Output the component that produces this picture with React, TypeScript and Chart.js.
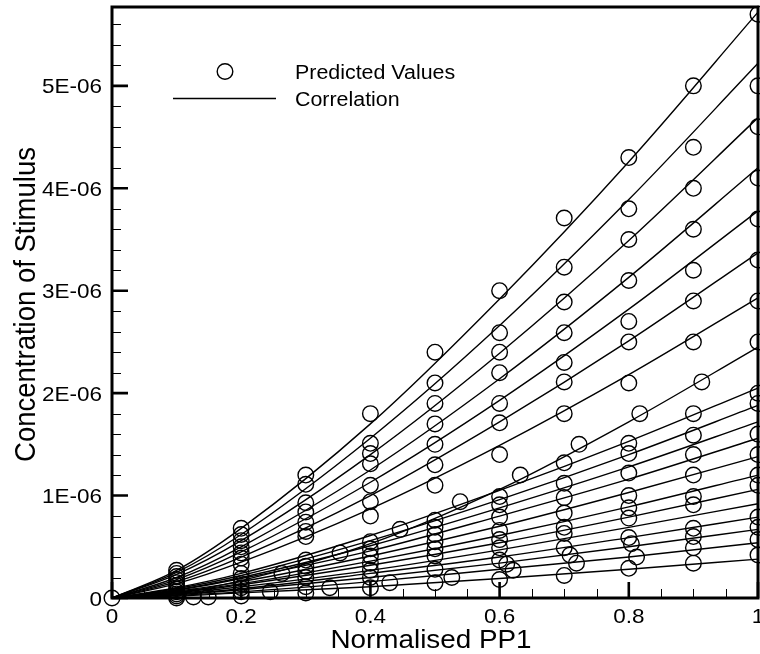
import { useEffect, useRef } from "react";
import { Chart, registerables } from "chart.js";

Chart.register(...registerables);

const FONT = '"Liberation Sans", Arial, Helvetica, sans-serif';
const TEXT_STRETCH = 1.07;

// Axis ranges (y in units of 1E-06)
const xRange = [0, 1];
const yRange = [0, 5.77];

// Tick values and labels
const xMajorTicks = [0, 0.2, 0.4, 0.6, 0.8, 1];
const xTickLabels = ["0", "0.2", "0.4", "0.6", "0.8", "1"];
const xMinorStep = 0.05;
const yMajorTicks = [0, 1, 2, 3, 4, 5];
const yTickLabels = ["0", "1E-06", "2E-06", "3E-06", "4E-06", "5E-06"];
const yMinorStep = 0.2;

const xTitle = "Normalised PP1";
const yTitle = "Concentration of Stimulus";
const legendLabels = ["Predicted Values", "Correlation"];

// Correlation curves, sampled at correlationX (y in 1E-06)
const correlationX = [0, 0.1, 0.2, 0.4, 0.6, 0.8, 1];
const correlationCurves = [
  [0, 0.27, 0.68, 1.7, 2.92, 4.26, 5.72],
  [0, 0.25, 0.62, 1.56, 2.66, 3.89, 5.22],
  [0, 0.23, 0.56, 1.4, 2.39, 3.49, 4.69],
  [0, 0.2, 0.5, 1.25, 2.14, 3.13, 4.2],
  [0, 0.18, 0.45, 1.13, 1.93, 2.82, 3.78],
  [0, 0.16, 0.4, 1.0, 1.72, 2.51, 3.37],
  [0, 0.14, 0.35, 0.87, 1.49, 2.18, 2.93],
  [0, 0.05, 0.17, 0.53, 1.06, 1.72, 2.45],
  [0, 0.1, 0.24, 0.61, 1.05, 1.53, 2.05],
  [0, 0.09, 0.22, 0.56, 0.96, 1.4, 1.88],
  [0, 0.08, 0.2, 0.51, 0.88, 1.28, 1.72],
  [0, 0.075, 0.19, 0.46, 0.8, 1.16, 1.56],
  [0, 0.066, 0.16, 0.41, 0.7, 1.03, 1.38],
  [0, 0.058, 0.14, 0.36, 0.61, 0.89, 1.2],
  [0, 0.051, 0.13, 0.32, 0.54, 0.79, 1.06],
  [0, 0.044, 0.11, 0.27, 0.47, 0.69, 0.92],
  [0, 0.038, 0.09, 0.24, 0.4, 0.59, 0.79],
  [0, 0.032, 0.08, 0.2, 0.34, 0.5, 0.67],
  [0, 0.026, 0.06, 0.16, 0.28, 0.4, 0.54],
  [0, 0.018, 0.05, 0.11, 0.19, 0.28, 0.38],
];

// Predicted values on the regular PP1 columns (y in 1E-06)
const predictedColumnX = [0, 0.1, 0.2, 0.3, 0.4, 0.5, 0.6, 0.7, 0.8, 0.9, 1];
const predictedColumnValues = [
  [0],
  [0.27, 0.24, 0.21, 0.18, 0.15, 0.12, 0.09, 0.06, 0.04, 0.02, 0],
  [0.68, 0.62, 0.56, 0.5, 0.44, 0.39, 0.33, 0.24, 0.19, 0.14, 0.1, 0.06, 0.02],
  [1.2, 1.11, 0.93, 0.84, 0.74, 0.65, 0.6, 0.37, 0.31, 0.26, 0.2, 0.11, 0.05],
  [1.8, 1.51, 1.41, 1.31, 1.1, 0.94, 0.8, 0.55, 0.48, 0.41, 0.34, 0.27, 0.2, 0.1],
  [2.4, 2.1, 1.9, 1.7, 1.5, 1.3, 1.1, 0.76, 0.69, 0.62, 0.55, 0.48, 0.41, 0.28, 0.15],
  [3.0, 2.59, 2.4, 2.2, 1.9, 1.71, 1.4, 0.99, 0.91, 0.79, 0.66, 0.57, 0.49, 0.37, 0.18],
  [3.71, 3.23, 2.89, 2.59, 2.3, 2.11, 1.8, 1.32, 1.12, 0.98, 0.83, 0.69, 0.63, 0.49, 0.22],
  [4.3, 3.8, 3.5, 3.1, 2.7, 2.5, 2.1, 1.51, 1.41, 1.22, 1.0, 0.88, 0.78, 0.59, 0.29],
  [5.0, 4.4, 4.0, 3.6, 3.2, 2.9, 2.5, 1.8, 1.59, 1.4, 1.2, 0.99, 0.91, 0.68, 0.6, 0.49, 0.34],
  [5.7, 5.0, 4.6, 4.1, 3.7, 3.3, 2.9, 2.5, 2.0, 1.9, 1.6, 1.4, 1.2, 1.1, 0.79, 0.69, 0.57, 0.42],
];

// Predicted values between the regular columns
const offGridX = [0.126, 0.149, 0.245, 0.263, 0.337, 0.353, 0.43, 0.446, 0.526, 0.539, 0.611, 0.621, 0.632, 0.709, 0.719, 0.723, 0.804, 0.812, 0.817, 0.913];
const offGridY = [0.01, 0.01, 0.06, 0.24, 0.1, 0.44, 0.15, 0.67, 0.2, 0.94, 0.33, 0.27, 1.2, 0.42, 0.34, 1.5, 0.53, 0.4, 1.8, 2.11];

function drawText(
  ctx: CanvasRenderingContext2D,
  text: string,
  x: number,
  y: number,
  size: number,
  align: CanvasTextAlign,
  rotate = false
) {
  ctx.save();
  ctx.translate(x, y);
  ctx.scale(TEXT_STRETCH, 1);
  if (rotate) ctx.rotate(-Math.PI / 2);
  ctx.font = `${size}px ${FONT}`;
  ctx.textAlign = align;
  ctx.textBaseline = "alphabetic";
  ctx.fillStyle = "#000";
  ctx.fillText(text, 0, 0);
  ctx.restore();
}

const framePlugin = {
  id: "frameAndAxes",
  afterDraw(chart: any) {
    const { ctx, chartArea: a, scales } = chart;
    const xs = scales.x;
    const ys = scales.y;
    ctx.save();
    ctx.strokeStyle = "#000";
    ctx.lineCap = "butt";

    const isMajor = (v: number, majors: number[]) => majors.some((m) => Math.abs(m - v) < 1e-6);

    // minor ticks (inside the frame)
    ctx.lineWidth = 1;
    ctx.beginPath();
    for (let i = 0; i * xMinorStep <= xRange[1] + 1e-9; i++) {
      const v = i * xMinorStep;
      if (isMajor(v, xMajorTicks)) continue;
      const px = Math.round(xs.getPixelForValue(v)) + 0.5;
      ctx.moveTo(px, a.bottom);
      ctx.lineTo(px, a.bottom - 9);
    }
    for (let i = 0; i * yMinorStep <= yRange[1] + 1e-9; i++) {
      const v = i * yMinorStep;
      if (isMajor(v, yMajorTicks)) continue;
      const py = Math.round(ys.getPixelForValue(v)) + 0.5;
      ctx.moveTo(a.left, py);
      ctx.lineTo(a.left + 9, py);
    }
    ctx.stroke();

    // major ticks
    ctx.lineWidth = 2.6;
    ctx.beginPath();
    xMajorTicks.forEach((v) => {
      const px = xs.getPixelForValue(v);
      ctx.moveTo(px, a.bottom);
      ctx.lineTo(px, a.bottom - 16);
    });
    yMajorTicks.forEach((v) => {
      const py = ys.getPixelForValue(v);
      ctx.moveTo(a.left, py);
      ctx.lineTo(a.left + 16, py);
    });
    ctx.stroke();

    // frame
    ctx.lineWidth = 3;
    ctx.strokeRect(a.left, a.top, a.right - a.left, a.bottom - a.top);

    // tick labels
    xMajorTicks.forEach((v, i) => {
      drawText(ctx, xTickLabels[i], xs.getPixelForValue(v), a.bottom + 25, 21, "center");
    });
    yMajorTicks.forEach((v, i) => {
      drawText(ctx, yTickLabels[i], a.left - 10, ys.getPixelForValue(v) + 7.5, 21, "right");
    });

    // axis titles
    drawText(ctx, xTitle, (a.left + a.right) / 2 - 4, a.bottom + 50, 26, "center");
    drawText(ctx, yTitle, 35, (a.top + a.bottom) / 2 + 2, 27.5, "center", true);

    // legend
    ctx.lineWidth = 1.4;
    ctx.beginPath();
    ctx.arc(225, 71.5, 7.8, 0, Math.PI * 2);
    ctx.stroke();
    ctx.beginPath();
    ctx.moveTo(173, 98.5);
    ctx.lineTo(276, 98.5);
    ctx.stroke();
    drawText(ctx, legendLabels[0], 295, 79, 20, "left");
    drawText(ctx, legendLabels[1], 295, 106, 20, "left");

    ctx.restore();
  },
};

export default function App() {
  const canvasRef = useRef<HTMLCanvasElement | null>(null);

  useEffect(() => {
    if (!canvasRef.current) return;

    const curveSets = correlationCurves.map((curve) => ({
      data: correlationX.map((x, i) => ({ x, y: curve[i] })),
      showLine: true,
      borderColor: "#000",
      borderWidth: 1.4,
      pointRadius: 0,
      cubicInterpolationMode: "monotone" as const,
      clip: false as const,
    }));

    const predicted: { x: number; y: number }[] = [];
    predictedColumnX.forEach((x, i) => {
      predictedColumnValues[i].forEach((y) => predicted.push({ x, y }));
    });
    offGridX.forEach((x, i) => predicted.push({ x, y: offGridY[i] }));

    const chart = new Chart(canvasRef.current, {
      type: "scatter",
      data: {
        datasets: [
          ...curveSets,
          {
            data: predicted,
            showLine: false,
            pointStyle: "circle",
            pointRadius: 7.8,
            borderWidth: 1.4,
            pointBorderWidth: 1.4,
            borderColor: "#000",
            backgroundColor: "rgba(0,0,0,0)",
            clip: false as const,
          },
        ],
      } as any,
      options: {
        animation: false,
        responsive: false,
        devicePixelRatio: 1,
        events: [],
        layout: {
          autoPadding: false,
          padding: { left: 112, right: 2, top: 7, bottom: 56 },
        },
        plugins: {
          legend: { display: false },
          tooltip: { enabled: false },
        },
        scales: {
          x: { type: "linear", min: xRange[0], max: xRange[1], display: false },
          y: { type: "linear", min: yRange[0], max: yRange[1], display: false },
        },
      } as any,
      plugins: [framePlugin],
    });

    return () => chart.destroy();
  }, []);

  return (
    <div style={{ position: "absolute", left: 0, top: 0, width: 760, height: 654, background: "#fff" }}>
      <canvas ref={canvasRef} width={760} height={654} style={{ display: "block" }} />
    </div>
  );
}
